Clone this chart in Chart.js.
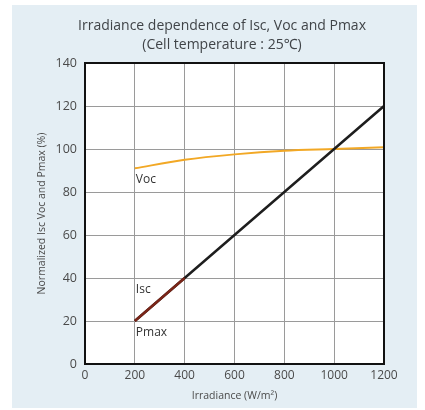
<!DOCTYPE html>
<html>
<head>
<meta charset="utf-8">
<script src="https://cdn.jsdelivr.net/npm/chart.js@4"></script>
<style>
  html, body { margin: 0; padding: 0; background: #ffffff; }
  canvas { display: block; }
</style>
</head>
<body>
<canvas id="c" width="425" height="410"></canvas>
<script>
// ---- data ----
const irradiance = [200, 400, 600, 800, 1000, 1200];
const vocValues  = [91, 95, 97.5, 99.2, 100, 100.8];
const iscValues  = [20, 40, 60, 80, 100, 120];
const pmaxIrr    = [200, 300, 400];
const pmaxValues = [20, 30, 40];
const xTicks = [0, 200, 400, 600, 800, 1000, 1200];
const yTicks = [0, 20, 40, 60, 80, 100, 120, 140];
const titleLines = ['Irradiance dependence of Isc, Voc and Pmax', '(Cell temperature : 25\u2103)'];
const seriesLabels = ['Voc', 'Isc', 'Pmax'];
const seriesLabelAnchors = [[200, 86], [200, 34.5], [200, 14.5]];

const FONT = "'Open Sans', 'Noto Sans', sans-serif";

const decorPlugin = {
  id: 'decor',
  beforeDraw(chart) {
    const ctx = chart.ctx;
    const a = chart.chartArea;
    ctx.save();
    ctx.fillStyle = '#ffffff';
    ctx.fillRect(0, 0, chart.width, chart.height);
    ctx.fillStyle = '#e4eef4';
    ctx.fillRect(12, 5, 405, 403);
    ctx.fillStyle = '#ffffff';
    ctx.fillRect(a.left, a.top, a.right - a.left, a.bottom - a.top);
    // titles
    ctx.fillStyle = '#404448';
    ctx.font = '14px ' + FONT;
    ctx.textAlign = 'center';
    ctx.textBaseline = 'middle';
    ctx.fillText(titleLines[0], 222, 26);
    ctx.fillText(titleLines[1], 222, 45);
    ctx.restore();
  },
  afterDatasetsDraw(chart) {
    const ctx = chart.ctx;
    const a = chart.chartArea;
    const xs = chart.scales.x, ys = chart.scales.y;
    ctx.save();
    ctx.strokeStyle = '#111111';
    ctx.lineWidth = 2;
    ctx.strokeRect(a.left, a.top, a.right - a.left, a.bottom - a.top);
    ctx.fillStyle = '#333333';
    ctx.font = '12px ' + FONT;
    ctx.textAlign = 'left';
    ctx.textBaseline = 'middle';
    seriesLabels.forEach((t, i) => {
      const [xv, yv] = seriesLabelAnchors[i];
      ctx.fillText(t, xs.getPixelForValue(xv) + 1, ys.getPixelForValue(yv));
    });
    ctx.restore();
  }
};

new Chart(document.getElementById('c'), {
  type: 'line',
  data: {
    datasets: [
      {
        label: 'Voc',
        data: irradiance.map((x, i) => ({ x, y: vocValues[i] })),
        borderColor: '#f2a825',
        borderWidth: 2,
        pointRadius: 0,
        tension: 0.4,
        cubicInterpolationMode: 'monotone',
        order: 3
      },
      {
        label: 'Isc',
        data: irradiance.map((x, i) => ({ x, y: iscValues[i] })),
        borderColor: '#1e1e1e',
        borderWidth: 2.5,
        pointRadius: 0,
        order: 2
      },
      {
        label: 'Pmax',
        data: pmaxIrr.map((x, i) => ({ x, y: pmaxValues[i] })),
        borderColor: '#7a2518',
        borderWidth: 2.5,
        pointRadius: 0,
        order: 1
      }
    ]
  },
  options: {
    responsive: false,
    animation: false,
    layout: { padding: { left: 0, right: 41, top: 63, bottom: 0 } },
    plugins: {
      legend: { display: false },
      title: { display: false },
      tooltip: { enabled: false }
    },
    scales: {
      x: {
        type: 'linear',
        min: 0,
        max: 1200,
        afterBuildTicks(scale) { scale.ticks = xTicks.map(v => ({ value: v })); },
        afterFit(scale) { scale.height = 46; },
        grid: { color: '#9a9a9a', lineWidth: 1, drawTicks: false },
        border: { display: false },
        ticks: { color: '#4a4a4a', font: { family: FONT, size: 12 }, padding: 4, maxRotation: 0,
                 callback: v => String(v) },
        title: {
          display: true,
          text: 'Irradiance (W/m\u00b2)',
          color: '#4a4a4a',
          font: { family: FONT, size: 10.5 },
          padding: { top: 0, bottom: 8 }
        }
      },
      y: {
        type: 'linear',
        min: 0,
        max: 140,
        afterBuildTicks(scale) { scale.ticks = yTicks.map(v => ({ value: v })); },
        afterFit(scale) { scale.width = 85; },
        grid: { color: '#9a9a9a', lineWidth: 1, drawTicks: false },
        border: { display: false },
        ticks: { color: '#4a4a4a', font: { family: FONT, size: 12.5 }, padding: 8,
                 callback: v => String(v) },
        title: {
          display: true,
          text: 'Normalized Isc Voc and Pmax (%)',
          color: '#4a4a4a',
          font: { family: FONT, size: 10.5 },
          padding: { top: 36, bottom: 0 }
        }
      }
    }
  },
  plugins: [decorPlugin]
});
</script>
</body>
</html>
